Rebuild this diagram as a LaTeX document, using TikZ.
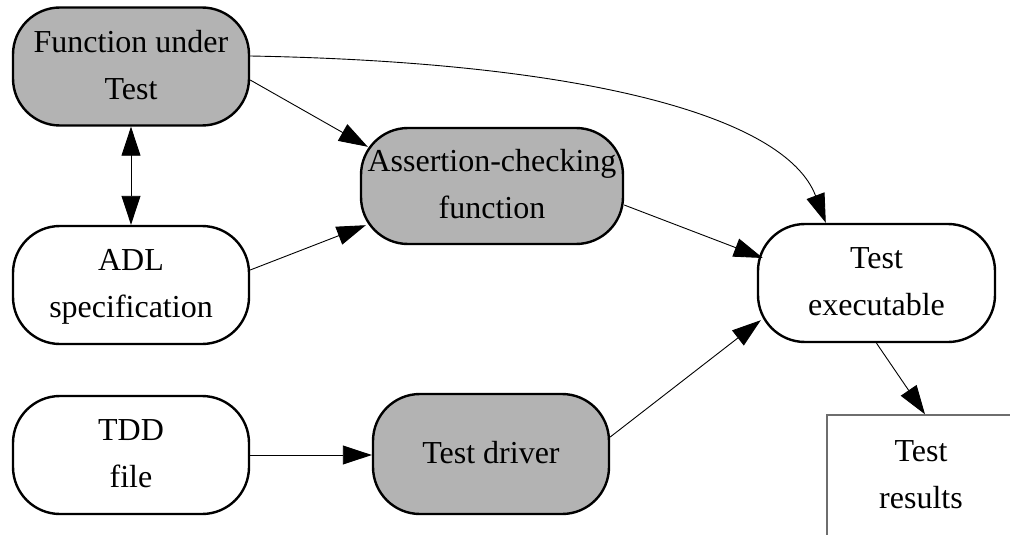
\documentclass[tikz,border=0pt]{standalone}
\usepackage{fontspec}
\setmainfont{Liberation Serif}
\usetikzlibrary{arrows.meta,calc}
\definecolor{boxgray}{RGB}{179,179,179}
\definecolor{notegray}{RGB}{110,110,110}
\begin{document}
\begin{tikzpicture}[x=1pt,y=-1pt,
  box/.style={draw=black,line width=2.4pt,rounded corners=47pt,minimum width=236pt,minimum height=118pt,inner sep=0pt,align=center,font=\fontsize{32}{47}\selectfont},
  grayfill/.style={fill=boxgray},
  note/.style={draw=notegray,line width=1.4pt,minimum width=188pt,minimum height=122pt,inner sep=0pt,align=center,font=\fontsize{32}{47}\selectfont},
  conn/.style={line width=0.9pt,-{Triangle[length=29pt,width=19pt]}},
  dconn/.style={line width=0.9pt,{Triangle[length=29pt,width=19pt]}-{Triangle[length=29pt,width=19pt]}}]
\useasboundingbox (0,0) rectangle (1010,535);
\clip (0,0) rectangle (1010,535);
\node[box,grayfill] (fut) at (131,66.5) {\strut Function under\\\strut Test};
\node[box,grayfill,minimum width=262pt,minimum height=116pt] (acf) at (492,186) {\strut Assertion-checking\\\strut function};
\node[box] (adl) at (131,285) {\strut ADL\\\strut specification};
\node[box,minimum width=237pt] (tex) at (876.5,283) {\strut Test\\\strut executable};
\node[box] (tdd) at (131,455) {\strut TDD\\\strut file};
\node[box,grayfill,minimum height=120pt] (tdr) at (491,454) {\strut Test driver};
\node[note] (res) at (921,476) {\strut Test\\\strut results};
\draw[conn] ($(fut.east)+(0,13.5)$) -- ($(acf.north west)+(8,20)$);
\draw[conn] ($(fut.east)+(0,-10.5)$) .. controls (580,62) and (785,115) .. ($(tex.north west)+(69,0)$);
\draw[dconn] (fut.south) -- (adl.north);
\draw[conn] ($(adl.east)+(0,-15)$) -- ($(acf.south west)+(6,-20)$);
\draw[conn] ($(acf.east)+(0,19)$) -- ($(tex.west)+(6,-25)$);
\draw[conn] (tdd.east) -- (tdr.west |- tdd.east);
\draw[conn] ($(tdr.east)+(0,-17)$) -- ($(tex.south west)+(4,-23)$);
\draw[conn] (tex.south) -- ($(res.north)+(4,0)$);
\end{tikzpicture}
\end{document}
